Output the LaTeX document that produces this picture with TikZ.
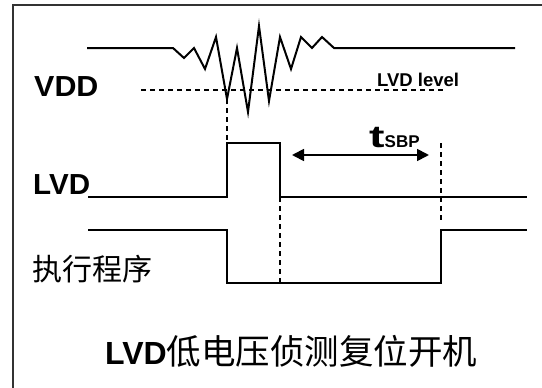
\documentclass[tikz,border=0pt]{standalone}
\usepackage{fontspec}
\setmainfont{Liberation Sans}
\newfontfamily\cjk{Noto Sans CJK SC}
\usetikzlibrary{arrows.meta}
\begin{document}
\begin{tikzpicture}[x=1pt,y=-1pt,
  wave/.style={line width=2pt, line join=miter, line cap=butt},
  guide/.style={line width=1.6pt, dash pattern=on 5pt off 4pt},
  frameline/.style={line width=2pt, draw=black!80},
  lbl/.style={inner sep=0pt, anchor=base west, font=\fontsize{29}{29}\selectfont\bfseries},
  span/.style={line width=1.8pt, {Triangle[length=12pt,width=12pt]}-{Triangle[length=12pt,width=12pt]}}
]
\useasboundingbox (0,0) rectangle (542,388);
% frame (top and left edges)
\coordinate (fbl) at (13,388);
\coordinate (ftr) at (542,5);
\draw[frameline] (fbl) |- (ftr);

% labels
\node[lbl] (vdd) at (34,96) {\scalebox{1.05}[1]{VDD}};
\node[lbl] (lvd) at (33,194) {\scalebox{1.02}[1]{LVD}};
\node[inner sep=0pt, anchor=base west, font=\cjk\fontsize{30}{30}\selectfont] (prog) at (32,280) {执行程序};
\node[inner sep=0pt, anchor=base west, font=\fontsize{18.5}{18.5}\selectfont\bfseries] (level) at (377,86) {LVD level};
\node[inner sep=0pt, anchor=base west] (tsbp) at (369,147)
  {\fontsize{31}{31}\selectfont\bfseries\scalebox{1.5}[1]{t}\fontsize{17}{17}\selectfont SBP};
\node[inner sep=0pt, anchor=base west] (title) at (105,364)
  {\fontsize{32}{32}\selectfont\bfseries LVD\cjk\mdseries\fontsize{34.5}{34.5}\selectfont 低电压侦测复位开机};

% VDD waveform
\coordinate (dip) at (227,99);
\draw[wave] (87,48) -- (173,48) -- (184,58) -- (194,48) -- (205,69) -- (216,37)
  -- (dip) -- (237,48) -- (248,112) -- (259,26) -- (269,101) -- (280,37)
  -- (291,69) -- (301,37) -- (312,48) -- (322,37) -- (334,48) -- (515,48);
% LVD level
\coordinate (lvl0) at (141,90);
\coordinate (lvl1) at (443,90);
\draw[guide] (lvl0) -- (lvl1);

% LVD waveform
\coordinate (rise) at (227,143);
\coordinate (fallt) at (280,143);
\coordinate (fallb) at (280,197);
\draw[wave] (88,197) -- (227,197) -- (rise) -- (fallt) -- (fallb) -- (527,197);

% program waveform
\coordinate (pdown) at (227,283);
\coordinate (pfall) at (280,283);
\coordinate (pup) at (441,283);
\draw[wave] (88,230) -- (227,230) -- (pdown) -- (pup) -- (441,230) -- (527,230);

% guides
\draw[guide] (dip) -- (rise);
\draw[guide] (fallb) -- (pfall);
\coordinate (g3t) at (441,143);
\coordinate (g3b) at (441,220);
\draw[guide] (g3t) -- (g3b);

% t_SBP span
\coordinate (a0) at (292,155);
\coordinate (a1) at (429,155);
\draw[span] (a0) -- (a1);
\end{tikzpicture}
\end{document}
